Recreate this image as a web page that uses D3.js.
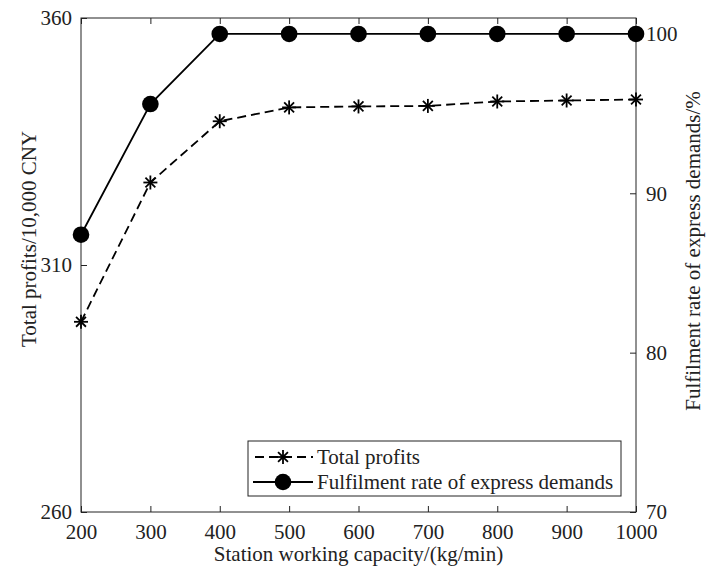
<!DOCTYPE html>
<html>
<head>
<meta charset="utf-8">
<script src="https://cdn.jsdelivr.net/npm/d3@7"></script>
<style>
  body { margin: 0; background: #fff; }
  text { font-family: "Liberation Serif", "Times New Roman", serif; }
</style>
</head>
<body>
<div id="chart"></div>
<script>
// Data
const capacity = [200, 300, 400, 500, 600, 700, 800, 900, 1000];
const profits = [298.5, 326.7, 339.1, 341.9, 342.1, 342.2, 343.1, 343.3, 343.5];
const fulfilment = [87.4, 95.6, 100, 100, 100, 100, 100, 100, 100];
const xTicks = [200, 300, 400, 500, 600, 700, 800, 900, 1000];
const yLeftTicks = [260, 310, 360];
const yRightTicks = [70, 80, 90, 100];

const width = 706, height = 576;
const margin = { top: 18, right: 70, bottom: 64, left: 81 };
const ink = "#222";
const fs = "21px";

const svg = d3.select("#chart")
    .append("svg")
    .attr("width", width)
    .attr("height", height);

const x = d3.scaleLinear().domain([200, 1000]).range([margin.left, width - margin.right]);
const yL = d3.scaleLinear().domain([260, 360]).range([height - margin.bottom, margin.top]);
const yR = d3.scaleLinear().domain([70, 101]).range([height - margin.bottom, margin.top]);

// Box
svg.append("rect")
    .attr("x", margin.left).attr("y", margin.top)
    .attr("width", width - margin.right - margin.left)
    .attr("height", height - margin.bottom - margin.top)
    .attr("fill", "none").attr("stroke", ink).attr("stroke-width", 1);

function styleAxis(g) {
    g.select(".domain").remove();
    g.selectAll("line").attr("stroke", ink);
    g.selectAll("text").attr("fill", ink).style("font-size", fs)
        .style("font-family", "'Liberation Serif', serif");
}

// Axes with inward ticks
svg.append("g")
    .attr("transform", `translate(0,${height - margin.bottom})`)
    .call(d3.axisBottom(x).tickValues(xTicks).tickFormat(d3.format("d")).tickSize(-6).tickPadding(12))
    .call(styleAxis);

svg.append("g")
    .attr("transform", `translate(0,${margin.top})`)
    .call(d3.axisTop(x).tickValues(xTicks).tickSize(-6).tickFormat(""))
    .call(styleAxis);

svg.append("g")
    .attr("transform", `translate(${margin.left},0)`)
    .call(d3.axisLeft(yL).tickValues(yLeftTicks).tickSize(-6).tickPadding(9))
    .call(styleAxis);

svg.append("g")
    .attr("transform", `translate(${width - margin.right},0)`)
    .call(d3.axisRight(yR).tickValues(yRightTicks).tickSize(-6).tickPadding(10))
    .call(styleAxis);

// Axis titles
svg.append("text")
    .attr("x", (margin.left + width - margin.right) / 2)
    .attr("y", 561)
    .attr("text-anchor", "middle")
    .style("font-size", fs).attr("fill", ink)
    .text("Station working capacity/(kg/min)");

svg.append("text")
    .attr("transform", "translate(36,239) rotate(-90)")
    .attr("text-anchor", "middle")
    .style("font-size", fs).attr("fill", ink)
    .text("Total profits/10,000 CNY");

svg.append("text")
    .attr("transform", "translate(685,251) rotate(-90)")
    .attr("text-anchor", "middle")
    .attr("dy", "0.7em")
    .style("font-size", fs).attr("fill", ink)
    .text("Fulfilment rate of express demands/%");

// Series
const profitPts = capacity.map((c, i) => [x(c), yL(profits[i])]);
const fulfilPts = capacity.map((c, i) => [x(c), yR(fulfilment[i])]);

svg.append("path")
    .attr("d", d3.line()(profitPts))
    .attr("fill", "none").attr("stroke", "#000")
    .attr("stroke-width", 1.8).attr("stroke-dasharray", "9,5");

svg.append("path")
    .attr("d", d3.line()(fulfilPts))
    .attr("fill", "none").attr("stroke", "#000")
    .attr("stroke-width", 1.8);

function asterisk(g, cx, cy, r) {
    const a = r * Math.SQRT1_2;
    const segs = [[-r, 0, r, 0], [0, -r, 0, r], [-a, -a, a, a], [-a, a, a, -a]];
    g.append("g").selectAll("line").data(segs).join("line")
        .attr("x1", d => cx + d[0]).attr("y1", d => cy + d[1])
        .attr("x2", d => cx + d[2]).attr("y2", d => cy + d[3])
        .attr("stroke", "#000").attr("stroke-width", 1.8);
}

const markers = svg.append("g");
profitPts.forEach(p => asterisk(markers, p[0], p[1], 7));
markers.selectAll("circle").data(fulfilPts).join("circle")
    .attr("cx", d => d[0]).attr("cy", d => d[1]).attr("r", 8.3)
    .attr("fill", "#000");

// Legend
const lg = svg.append("g");
lg.append("rect")
    .attr("x", 248).attr("y", 441).attr("width", 373).attr("height", 55)
    .attr("fill", "#fff").attr("stroke", ink).attr("stroke-width", 1);
lg.append("line").attr("x1", 253).attr("x2", 313).attr("y1", 457).attr("y2", 457)
    .attr("stroke", "#000").attr("stroke-width", 1.8).attr("stroke-dasharray", "9,5")
    .attr("stroke-dashoffset", -2);
asterisk(lg, 283, 457, 7);
lg.append("line").attr("x1", 253).attr("x2", 313).attr("y1", 482).attr("y2", 482)
    .attr("stroke", "#000").attr("stroke-width", 1.8);
lg.append("circle").attr("cx", 283).attr("cy", 482).attr("r", 8.3).attr("fill", "#000");
lg.append("text").attr("x", 317).attr("y", 457).attr("dy", "0.35em")
    .style("font-size", fs).attr("fill", ink).text("Total profits");
lg.append("text").attr("x", 317).attr("y", 482).attr("dy", "0.35em")
    .style("font-size", fs).attr("fill", ink).text("Fulfilment rate of express demands");
</script>
</body>
</html>
